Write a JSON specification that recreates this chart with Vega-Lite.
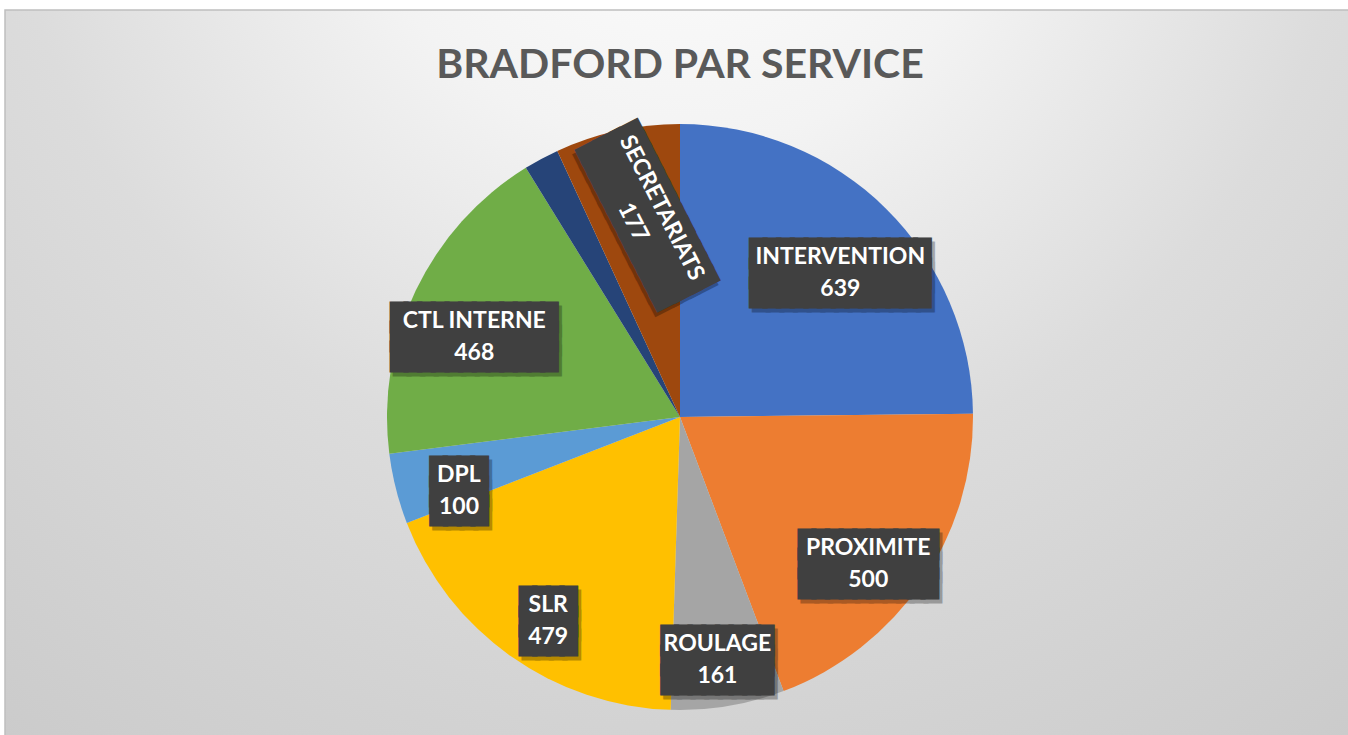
{
  "$schema": "https://vega.github.io/schema/vega-lite/v6.json",
  "width": 1350,
  "height": 814,
  "autosize": {"type": "none"},
  "padding": {"left": 5, "top": 10, "right": -7, "bottom": -89},
  "background": "#ffffff",
  "view": {
    "fill": {
      "gradient": "radial",
      "x1": 0.5, "y1": 0.05, "r1": 0,
      "x2": 0.5, "y2": 0.05, "r2": 1,
      "stops": [
        {"offset": 0, "color": "#ffffff"},
        {"offset": 0.25, "color": "#f3f3f3"},
        {"offset": 0.5, "color": "#dcdcdc"},
        {"offset": 0.7, "color": "#d2d2d2"},
        {"offset": 1, "color": "#c4c4c4"}
      ]
    },
    "stroke": "#bfbfbf",
    "strokeWidth": 1.5
  },
  "title": {
    "text": "BRADFORD PAR SERVICE",
    "anchor": "middle",
    "font": "Lato",
    "fontSize": 41,
    "fontWeight": "bold",
    "color": "#595959",
    "baseline": "alphabetic",
    "offset": -68,
    "dy": 41
  },
  "data": {
    "values": [
      {"service": "INTERVENTION", "value": 639},
      {"service": "PROXIMITE", "value": 500},
      {"service": "ROULAGE", "value": 161},
      {"service": "SLR", "value": 479},
      {"service": "DPL", "value": 100},
      {"service": "CTL INTERNE", "value": 468},
      {"service": "AUTRES", "value": 50},
      {"service": "SECRETARIATS", "value": 177}
    ]
  },
  "transform": [{"window": [{"op": "row_number", "as": "idx"}]}],
  "encoding": {
    "theta": {"field": "value", "type": "quantitative", "stack": true},
    "order": {"field": "idx", "type": "quantitative"},
    "angle": {"condition": {"test": "datum.service === 'SECRETARIATS'", "value": 63}, "value": 0}
  },
  "layer": [
    {
      "mark": {"type": "arc", "radius": 293},
      "encoding": {
        "angle": null,
        "color": {
          "field": "service",
          "type": "nominal",
          "scale": {
            "domain": ["INTERVENTION", "PROXIMITE", "ROULAGE", "SLR", "DPL", "CTL INTERNE", "AUTRES", "SECRETARIATS"],
            "range": ["#4472C4", "#ED7D31", "#A5A5A5", "#FFC000", "#5B9BD5", "#70AD47", "#264478", "#9E480E"]
          },
          "legend": null
        }
      }
    },
    {
      "mark": {"type": "text", "radius": 228, "font": "DejaVu Sans Mono", "fontSize": 22.7, "lineHeight": 19.7, "align": "center", "baseline": "middle",
        "dx": {"expr": "datum.service === 'SECRETARIATS' ? 29 : 3"},
        "dy": {"expr": "datum.service === 'SECRETARIATS' ? -20 : 3"},
        "fill": "#000000", "stroke": "#000000", "strokeWidth": 5, "strokeJoin": "miter", "opacity": 0.28},
      "encoding": {
        "text": {"value": {"expr": "datum.service === 'AUTRES' ? '' : [pad('', length(datum.service) + 1, '█'), pad('', length(datum.service) + 1, '█'), pad('', length(datum.service) + 1, '█')]"}}
      }
    },
    {
      "mark": {"type": "text", "radius": 228, "font": "DejaVu Sans Mono", "fontSize": 22.7, "lineHeight": 19.7, "align": "center", "baseline": "middle",
        "dx": {"expr": "datum.service === 'SECRETARIATS' ? 26 : 0"},
        "dy": {"expr": "datum.service === 'SECRETARIATS' ? -24 : -1"},
        "fill": "#404040", "stroke": "#404040", "strokeWidth": 5, "strokeJoin": "miter"},
      "encoding": {
        "text": {"value": {"expr": "datum.service === 'AUTRES' ? '' : [pad('', length(datum.service) + 1, '█'), pad('', length(datum.service) + 1, '█'), pad('', length(datum.service) + 1, '█')]"}}
      }
    },
    {
      "mark": {"type": "text", "radius": 228, "font": "Lato", "fontSize": 23, "fontWeight": "bold", "align": "center", "baseline": "middle",
        "dx": {"expr": "datum.service === 'SECRETARIATS' ? 26 : 0"},
        "dy": {"expr": "datum.service === 'SECRETARIATS' ? -21 : 2"},
        "fill": "#ffffff"},
      "encoding": {
        "text": {"condition": {"test": "datum.service === 'AUTRES'", "value": ""}, "field": "service", "type": "nominal"}
      }
    },
    {
      "mark": {"type": "text", "radius": 228, "font": "Lato", "fontSize": 23, "fontWeight": "bold", "align": "center", "baseline": "middle",
        "dx": {"expr": "datum.service === 'SECRETARIATS' ? 26 : 0"},
        "dy": {"expr": "datum.service === 'SECRETARIATS' ? 11 : 34"},
        "fill": "#ffffff"},
      "encoding": {
        "text": {"condition": {"test": "datum.service === 'AUTRES'", "value": ""}, "field": "value", "type": "quantitative"}
      }
    }
  ]
}
